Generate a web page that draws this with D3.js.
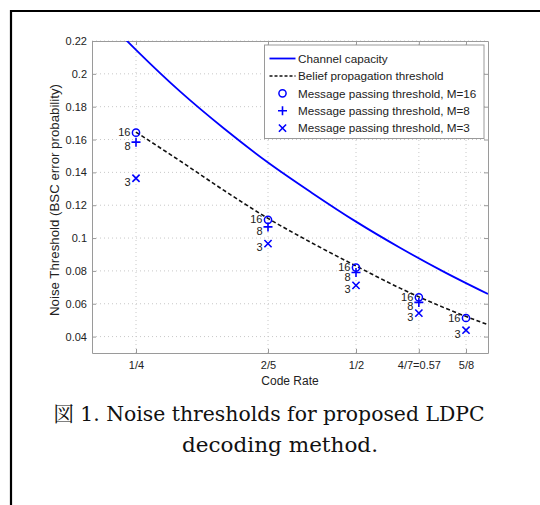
<!DOCTYPE html>
<html>
<head>
<meta charset="utf-8">
<script src="https://cdn.jsdelivr.net/npm/d3@7"></script>
<style>
  body { margin: 0; background: #fff; }
  text { font-family: "Liberation Sans", Arial, sans-serif; }
</style>
</head>
<body>
<script>
// x axis ticks (code rate)
const rateTicks = [0.25, 0.4, 0.5, 4 / 7, 0.625];
const rateTickLabels = ["1/4", "2/5", "1/2", "4/7=0.57", "5/8"];
const yTicks = [0.04, 0.06, 0.08, 0.1, 0.12, 0.14, 0.16, 0.18, 0.2, 0.22];

// channel capacity curve
const capacityRates = [0.238, 0.25, 0.3, 0.35, 0.4, 0.45, 0.5, 0.55, 0.6, 0.65];
const capacityValues = [0.221, 0.2146, 0.1893, 0.1667, 0.146, 0.1275, 0.110, 0.0941, 0.0794, 0.0659];

// belief propagation threshold
const bpRates = [0.25, 0.3, 0.35, 0.4, 0.45, 0.5, 0.55, 0.6, 0.65];
const bpValues = [0.1645, 0.147, 0.129, 0.112, 0.097, 0.083, 0.0695, 0.0576, 0.0472];

// message passing thresholds
const markerRates = [0.25, 0.4, 0.5, 4 / 7, 0.625];
const m16 = [0.1642, 0.1111, 0.0820, 0.0639, 0.0513];
const m8 = [0.1584, 0.1068, 0.0790, 0.0608, null];
const m3 = [0.1364, 0.0966, 0.0712, 0.0543, 0.0439];

const legendLabels = [
  "Channel capacity",
  "Belief propagation threshold",
  "Message passing threshold, M=16",
  "Message passing threshold, M=8",
  "Message passing threshold, M=3"
];

const width = 540;
const height = 505;
const margin = { top: 41, right: 52, bottom: 152, left: 92 };
const blue = "#0000ff";
const axisGray = "#9a9a9a";

const svg = d3.select("body")
  .append("svg")
  .attr("width", width)
  .attr("height", height);

// outer frame
svg.append("path")
  .attr("d", `M11,${height} L11,11 L${width},11`)
  .attr("fill", "none")
  .attr("stroke", "#000")
  .attr("stroke-width", 2.2);

const x = d3.scaleLinear()
  .domain([0.2, 0.65])
  .range([margin.left, width - margin.right]);

const y = d3.scaleLinear()
  .domain([0.03, 0.22])
  .range([height - margin.bottom, margin.top]);

const x0 = x.range()[0], x1 = x.range()[1];
const y0 = y.range()[0], y1 = y.range()[1];

// grid
svg.append("g")
  .selectAll("line")
  .data(yTicks)
  .join("line")
  .attr("x1", x0).attr("x2", x1)
  .attr("y1", d => y(d)).attr("y2", d => y(d))
  .attr("stroke", "#c8c8c8")
  .attr("stroke-dasharray", "1,3");

svg.append("g")
  .selectAll("line")
  .data(rateTicks)
  .join("line")
  .attr("x1", d => x(d)).attr("x2", d => x(d))
  .attr("y1", y0).attr("y2", y1)
  .attr("stroke", "#c8c8c8")
  .attr("stroke-dasharray", "1,3");

// axes
const fmt = d => String(+d.toFixed(2));

const yAxis = svg.append("g")
  .attr("transform", `translate(${x0},0)`)
  .call(d3.axisLeft(y).tickValues(yTicks).tickFormat(fmt).tickSizeInner(-4).tickSizeOuter(0).tickPadding(5));

const yAxisR = svg.append("g")
  .attr("transform", `translate(${x1},0)`)
  .call(d3.axisRight(y).tickValues(yTicks).tickFormat("").tickSizeInner(-4).tickSizeOuter(0));

const xAxis = svg.append("g")
  .attr("transform", `translate(0,${y0})`)
  .call(d3.axisBottom(x).tickValues(rateTicks).tickFormat((d, i) => rateTickLabels[i]).tickSizeInner(-4).tickSizeOuter(0).tickPadding(8));

const xAxisT = svg.append("g")
  .attr("transform", `translate(0,${y1})`)
  .call(d3.axisTop(x).tickValues(rateTicks).tickFormat("").tickSizeInner(-4).tickSizeOuter(0));

[yAxis, yAxisR, xAxis, xAxisT].forEach(g => {
  g.select(".domain").attr("stroke", axisGray);
  g.selectAll(".tick line").attr("stroke", axisGray);
  g.selectAll("text")
    .attr("fill", "#222")
    .style("font-size", "11px")
    .style("font-family", "'Liberation Sans', Arial, sans-serif");
});

// axis labels
svg.append("text")
  .attr("x", (x0 + x1) / 2)
  .attr("y", y0 + 32)
  .attr("text-anchor", "middle")
  .attr("fill", "#222")
  .style("font-size", "12px")
  .text("Code Rate");

svg.append("text")
  .attr("transform", `translate(59,${(y0 + y1) / 2 + 3}) rotate(-90)`)
  .attr("text-anchor", "middle")
  .attr("fill", "#222")
  .attr("textLength", 232)
  .attr("lengthAdjust", "spacingAndGlyphs")
  .style("font-size", "12px")
  .text("Noise Threshold (BSC error probability)");

// curves
const plot = svg.append("g");

const curve = d3.line()
  .x(d => x(d[0]))
  .y(d => y(d[1]))
  .curve(d3.curveMonotoneX);

plot.append("clipPath").attr("id", "clip")
  .append("rect")
  .attr("x", x0).attr("y", y1)
  .attr("width", x1 - x0).attr("height", y0 - y1);

plot.append("path")
  .datum(d3.zip(capacityRates, capacityValues))
  .attr("clip-path", "url(#clip)")
  .attr("d", curve)
  .attr("fill", "none")
  .attr("stroke", blue)
  .attr("stroke-width", 1.8);

plot.append("path")
  .datum(d3.zip(bpRates, bpValues))
  .attr("d", curve)
  .attr("fill", "none")
  .attr("stroke", "#111")
  .attr("stroke-width", 1.6)
  .attr("stroke-dasharray", "4,2.5");

// marker shapes
function circleMark(g, cx, cy) {
  g.append("circle").attr("cx", cx).attr("cy", cy).attr("r", 3.6)
    .attr("fill", "none").attr("stroke", blue).attr("stroke-width", 1.5);
}
function plusMark(g, cx, cy) {
  g.append("path").attr("d", `M${cx - 4.5},${cy} H${cx + 4.5} M${cx},${cy - 4.5} V${cy + 4.5}`)
    .attr("stroke", blue).attr("stroke-width", 1.6);
}
function crossMark(g, cx, cy) {
  g.append("path").attr("d", `M${cx - 3.6},${cy - 3.6} L${cx + 3.6},${cy + 3.6} M${cx - 3.6},${cy + 3.6} L${cx + 3.6},${cy - 3.6}`)
    .attr("stroke", blue).attr("stroke-width", 1.6);
}

const series = [
  { values: m16, mark: circleMark, label: "16", dy: 3.5 },
  { values: m8, mark: plusMark, label: "8", dy: 8 },
  { values: m3, mark: crossMark, label: "3", dy: 7.5 }
];

series.forEach(s => {
  markerRates.forEach((r, i) => {
    const v = s.values[i];
    if (v == null) return;
    s.mark(plot, x(r), y(v));
    plot.append("text")
      .attr("x", x(r) - 5.5)
      .attr("y", y(v) + s.dy)
      .attr("text-anchor", "end")
      .attr("fill", "#222")
      .style("font-size", "11px")
      .text(s.label);
  });
});

// legend
const lg = svg.append("g").attr("transform", "translate(264.5,45)");
lg.append("rect")
  .attr("width", 219.5)
  .attr("height", 93.5)
  .attr("fill", "#fff")
  .attr("stroke", axisGray);

legendLabels.forEach((label, i) => {
  const cy = 13.5 + i * 17.4;
  if (i === 0) {
    lg.append("line").attr("x1", 5).attr("x2", 31).attr("y1", cy).attr("y2", cy)
      .attr("stroke", blue).attr("stroke-width", 1.8);
  } else if (i === 1) {
    lg.append("line").attr("x1", 5).attr("x2", 31).attr("y1", cy).attr("y2", cy)
      .attr("stroke", "#111").attr("stroke-width", 1.5).attr("stroke-dasharray", "3,2");
  } else {
    [circleMark, plusMark, crossMark][i - 2](lg, 18, cy);
  }
  lg.append("text")
    .attr("x", 33.5)
    .attr("y", cy + 4.2)
    .attr("fill", "#222")
    .style("font-size", "11.7px")
    .text(label);
});

// caption
const caption = ["図 1. Noise thresholds for proposed LDPC", "decoding method."];
const captionWidths = [431, 196];
svg.selectAll(".caption")
  .data(caption)
  .join("text")
  .attr("class", "caption")
  .attr("x", (d, i) => i === 0 ? 269 : 280)
  .attr("y", (d, i) => 421 + i * 31)
  .attr("text-anchor", "middle")
  .attr("fill", "#111")
  .attr("textLength", (d, i) => captionWidths[i])
  .attr("lengthAdjust", "spacingAndGlyphs")
  .style("font-family", "'DejaVu Serif', 'Noto Serif CJK JP', 'Noto Sans CJK JP', serif")
  .style("font-size", "21px")
  .text(d => d);
</script>
</body>
</html>
